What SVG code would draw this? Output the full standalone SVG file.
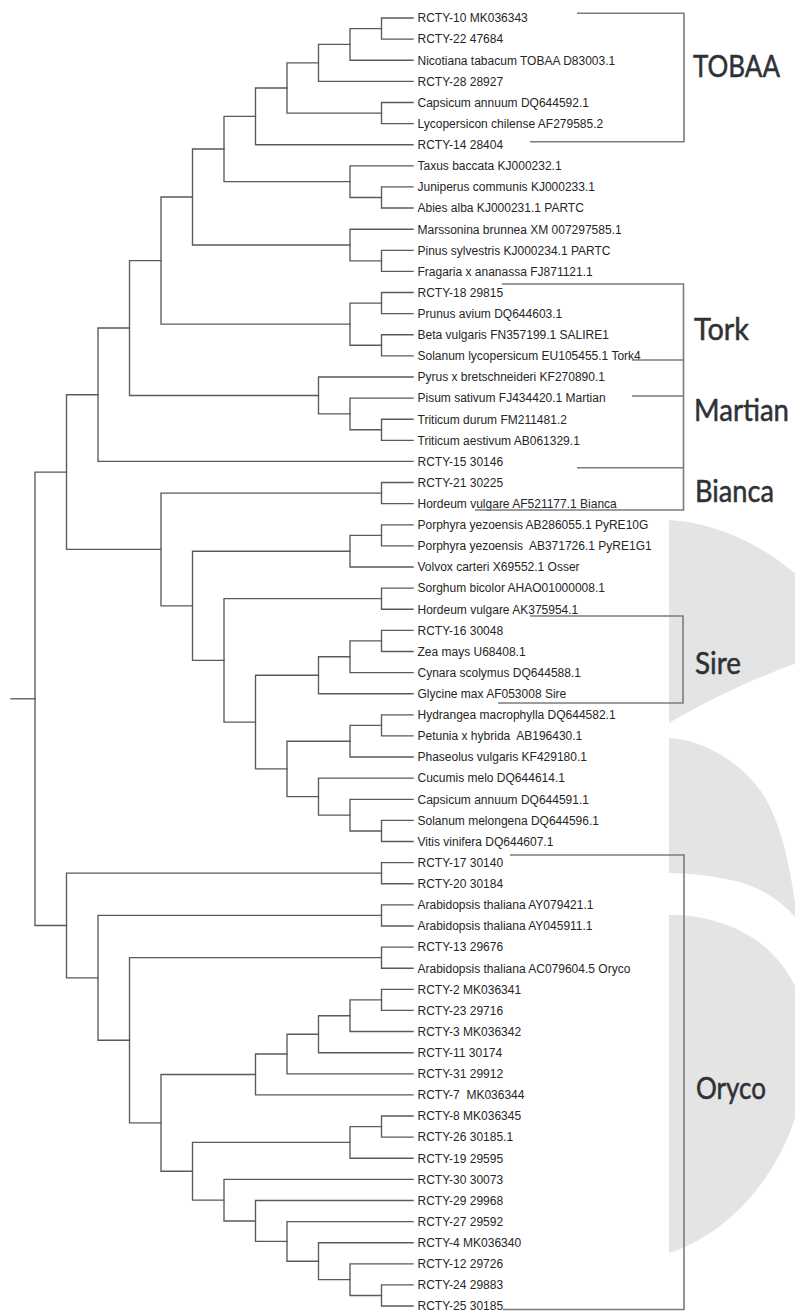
<svg xmlns="http://www.w3.org/2000/svg" width="795" height="1311" viewBox="0 0 795 1311">
<style>
.leaf{font-family:"Liberation Sans",Arial,sans-serif;font-size:12px;fill:#262626}
.clade{font-family:Lato,"Open Sans",sans-serif;font-size:30px;fill:#2e3236;stroke:#2e3236;stroke-width:0.5}
.br{fill:none;stroke:#5a5a5a;stroke-width:1.35;stroke-linecap:square}
.bk{fill:none;stroke:#7c7c7c;stroke-width:1.6}
.wm{fill:#e4e4e4}
</style>
<defs>
<clipPath id="wmclip"><rect x="669" y="0" width="126" height="1311"/></clipPath>
</defs>
<rect width="795" height="1311" fill="#fff"/>
<g id="watermark" clip-path="url(#wmclip)">
<path class="wm" d="M669,520 C712,522 760,542 800,578 V662 C760,676 712,698 669,723 Z"/>
<path class="wm" d="M669,738 C705,740 740,763 760,790 C775,810 788,850 795,903 V917 C780,900 760,888 740,882 C715,876 690,873 669,873 Z"/>
<path class="wm" d="M669,915 C700,914 740,925 765,947 C780,960 790,975 797,990 V1110 C785,1160 740,1230 669,1253 Z"/>
</g>
<g id="connectors" class="br">
<path d="M35 698.8H11"/>
<path d="M66.5 472.05H35V925.5H66.5"/>
<path d="M413 18H381.5V39.1H413"/>
<path d="M381.5 28.55H350V60.2H413"/>
<path d="M350 44.4H318.5V81.3H413"/>
<path d="M413 102.5H381.5V123.6H413"/>
<path d="M318.5 62.85H287V113.05H381.5"/>
<path d="M287 87.95H255.5V144.7H413"/>
<path d="M413 186.9H381.5V208H413"/>
<path d="M413 165.8H350V197.45H381.5"/>
<path d="M255.5 116.3H224V181.6H350"/>
<path d="M413 250.3H381.5V271.4H413"/>
<path d="M413 229.2H350V260.85H381.5"/>
<path d="M224 148.95H192.5V245H350"/>
<path d="M413 292.5H381.5V313.6H413"/>
<path d="M413 334.7H381.5V355.8H413"/>
<path d="M381.5 303.05H350V345.25H381.5"/>
<path d="M192.5 196.98H161V324.15H350"/>
<path d="M413 419.2H381.5V440.3H413"/>
<path d="M413 398.1H350V429.75H381.5"/>
<path d="M413 377H318.5V413.9H350"/>
<path d="M161 260.56H129.5V395.45H318.5"/>
<path d="M129.5 328H98V461.4H413"/>
<path d="M413 482.5H381.5V503.6H413"/>
<path d="M413 524.8H381.5V545.9H413"/>
<path d="M381.5 535.35H350V567H413"/>
<path d="M413 588.1H381.5V609.2H413"/>
<path d="M413 630.3H381.5V651.5H413"/>
<path d="M381.5 640.9H350V672.6H413"/>
<path d="M350 656.75H318.5V693.7H413"/>
<path d="M413 714.8H381.5V735.9H413"/>
<path d="M381.5 725.35H350V757H413"/>
<path d="M413 820.4H381.5V841.5H413"/>
<path d="M413 799.3H350V830.95H381.5"/>
<path d="M413 778.1H318.5V815.1H350"/>
<path d="M350 741.2H287V796.6H318.5"/>
<path d="M318.5 675.2H255.5V768.9H287"/>
<path d="M381.5 598.65H224V722.05H255.5"/>
<path d="M350 551.2H192.5V660.35H224"/>
<path d="M381.5 493.05H161V605.8H192.5"/>
<path d="M98 394.7H66.5V549.4H161"/>
<path d="M413 862.6H381.5V883.7H413"/>
<path d="M413 904.8H381.5V926H413"/>
<path d="M413 947.1H381.5V968.2H413"/>
<path d="M413 989.3H381.5V1010.4H413"/>
<path d="M381.5 999.85H350V1031.5H413"/>
<path d="M350 1015.7H318.5V1052.7H413"/>
<path d="M318.5 1034.2H287V1073.8H413"/>
<path d="M287 1054H255.5V1094.9H413"/>
<path d="M413 1116H381.5V1137.1H413"/>
<path d="M381.5 1126.55H350V1158.2H413"/>
<path d="M413 1284.9H381.5V1306H413"/>
<path d="M413 1263.8H350V1295.45H381.5"/>
<path d="M413 1242.7H318.5V1279.6H350"/>
<path d="M413 1221.6H287V1261.2H318.5"/>
<path d="M413 1200.5H255.5V1241.4H287"/>
<path d="M413 1179.3H224V1220.95H255.5"/>
<path d="M350 1142.4H192.5V1200.1H224"/>
<path d="M255.5 1074.45H161V1171.25H192.5"/>
<path d="M381.5 957.65H129.5V1122.85H161"/>
<path d="M381.5 915.4H98V1040.25H129.5"/>
<path d="M381.5 873.15H66.5V977.8H98"/>
</g>
<g id="leaves" class="leaf">
<g id="leaf-1"><text x="417.5" y="22.3">RCTY-10 MK036343</text></g>
<g id="leaf-2"><text x="417.5" y="43.4">RCTY-22 47684</text></g>
<g id="leaf-3"><text x="417.5" y="64.5">Nicotiana tabacum TOBAA D83003.1</text></g>
<g id="leaf-4"><text x="417.5" y="85.6">RCTY-28 28927</text></g>
<g id="leaf-5"><text x="417.5" y="106.8">Capsicum annuum DQ644592.1</text></g>
<g id="leaf-6"><text x="417.5" y="127.9">Lycopersicon chilense AF279585.2</text></g>
<g id="leaf-7"><text x="417.5" y="149">RCTY-14 28404</text></g>
<g id="leaf-8"><text x="417.5" y="170.1">Taxus baccata KJ000232.1</text></g>
<g id="leaf-9"><text x="417.5" y="191.2">Juniperus communis KJ000233.1</text></g>
<g id="leaf-10"><text x="417.5" y="212.3">Abies alba KJ000231.1 PARTC</text></g>
<g id="leaf-11"><text x="417.5" y="233.5">Marssonina brunnea XM 007297585.1</text></g>
<g id="leaf-12"><text x="417.5" y="254.6">Pinus sylvestris KJ000234.1 PARTC</text></g>
<g id="leaf-13"><text x="417.5" y="275.7">Fragaria x ananassa FJ871121.1</text></g>
<g id="leaf-14"><text x="417.5" y="296.8">RCTY-18 29815</text></g>
<g id="leaf-15"><text x="417.5" y="317.9">Prunus avium DQ644603.1</text></g>
<g id="leaf-16"><text x="417.5" y="339">Beta vulgaris FN357199.1 SALIRE1</text></g>
<g id="leaf-17"><text x="417.5" y="360.1">Solanum lycopersicum EU105455.1 Tork4</text></g>
<g id="leaf-18"><text x="417.5" y="381.3">Pyrus x bretschneideri KF270890.1</text></g>
<g id="leaf-19"><text x="417.5" y="402.4">Pisum sativum FJ434420.1 Martian</text></g>
<g id="leaf-20"><text x="417.5" y="423.5">Triticum durum FM211481.2</text></g>
<g id="leaf-21"><text x="417.5" y="444.6">Triticum aestivum AB061329.1</text></g>
<g id="leaf-22"><text x="417.5" y="465.7">RCTY-15 30146</text></g>
<g id="leaf-23"><text x="417.5" y="486.8">RCTY-21 30225</text></g>
<g id="leaf-24"><text x="417.5" y="507.9">Hordeum vulgare AF521177.1 Bianca</text></g>
<g id="leaf-25"><text x="417.5" y="529.1">Porphyra yezoensis AB286055.1 PyRE10G</text></g>
<g id="leaf-26"><text x="417.5" y="550.2" xml:space="preserve">Porphyra yezoensis&#160; AB371726.1 PyRE1G1</text></g>
<g id="leaf-27"><text x="417.5" y="571.3">Volvox carteri X69552.1 Osser</text></g>
<g id="leaf-28"><text x="417.5" y="592.4">Sorghum bicolor AHAO01000008.1</text></g>
<g id="leaf-29"><text x="417.5" y="613.5">Hordeum vulgare AK375954.1</text></g>
<g id="leaf-30"><text x="417.5" y="634.6">RCTY-16 30048</text></g>
<g id="leaf-31"><text x="417.5" y="655.8">Zea mays U68408.1</text></g>
<g id="leaf-32"><text x="417.5" y="676.9">Cynara scolymus DQ644588.1</text></g>
<g id="leaf-33"><text x="417.5" y="698">Glycine max AF053008 Sire</text></g>
<g id="leaf-34"><text x="417.5" y="719.1">Hydrangea macrophylla DQ644582.1</text></g>
<g id="leaf-35"><text x="417.5" y="740.2" xml:space="preserve">Petunia x hybrida&#160; AB196430.1</text></g>
<g id="leaf-36"><text x="417.5" y="761.3">Phaseolus vulgaris KF429180.1</text></g>
<g id="leaf-37"><text x="417.5" y="782.4">Cucumis melo DQ644614.1</text></g>
<g id="leaf-38"><text x="417.5" y="803.6">Capsicum annuum DQ644591.1</text></g>
<g id="leaf-39"><text x="417.5" y="824.7">Solanum melongena DQ644596.1</text></g>
<g id="leaf-40"><text x="417.5" y="845.8">Vitis vinifera DQ644607.1</text></g>
<g id="leaf-41"><text x="417.5" y="866.9">RCTY-17 30140</text></g>
<g id="leaf-42"><text x="417.5" y="888">RCTY-20 30184</text></g>
<g id="leaf-43"><text x="417.5" y="909.1">Arabidopsis thaliana AY079421.1</text></g>
<g id="leaf-44"><text x="417.5" y="930.3">Arabidopsis thaliana AY045911.1</text></g>
<g id="leaf-45"><text x="417.5" y="951.4">RCTY-13 29676</text></g>
<g id="leaf-46"><text x="417.5" y="972.5">Arabidopsis thaliana AC079604.5 Oryco</text></g>
<g id="leaf-47"><text x="417.5" y="993.6">RCTY-2 MK036341</text></g>
<g id="leaf-48"><text x="417.5" y="1014.7">RCTY-23 29716</text></g>
<g id="leaf-49"><text x="417.5" y="1035.8">RCTY-3 MK036342</text></g>
<g id="leaf-50"><text x="417.5" y="1057">RCTY-11 30174</text></g>
<g id="leaf-51"><text x="417.5" y="1078.1">RCTY-31 29912</text></g>
<g id="leaf-52"><text x="417.5" y="1099.2" xml:space="preserve">RCTY-7&#160; MK036344</text></g>
<g id="leaf-53"><text x="417.5" y="1120.3">RCTY-8 MK036345</text></g>
<g id="leaf-54"><text x="417.5" y="1141.4">RCTY-26 30185.1</text></g>
<g id="leaf-55"><text x="417.5" y="1162.5">RCTY-19 29595</text></g>
<g id="leaf-56"><text x="417.5" y="1183.6">RCTY-30 30073</text></g>
<g id="leaf-57"><text x="417.5" y="1204.8">RCTY-29 29968</text></g>
<g id="leaf-58"><text x="417.5" y="1225.9">RCTY-27 29592</text></g>
<g id="leaf-59"><text x="417.5" y="1247">RCTY-4 MK036340</text></g>
<g id="leaf-60"><text x="417.5" y="1268.1">RCTY-12 29726</text></g>
<g id="leaf-61"><text x="417.5" y="1289.2">RCTY-24 29883</text></g>
<g id="leaf-62"><text x="417.5" y="1310.3">RCTY-25 30185</text></g>
</g>
<g id="clade-TOBAA">
<path class="bk" d="M577 13.3H684V141.7H530"/>
<text class="clade" x="693" y="77" textLength="87" lengthAdjust="spacingAndGlyphs">TOBAA</text>
</g>
<g id="clade-Tork-Martian-Bianca">
<path class="bk" d="M502 284H683.5V510H475M632 360H683.5M632 396H683.5M577 467.7H683.5"/>
</g>
<g id="clade-Tork"><text class="clade" x="694" y="340" textLength="55" lengthAdjust="spacingAndGlyphs">Tork</text></g>
<g id="clade-Martian"><text class="clade" x="694" y="421" textLength="95" lengthAdjust="spacingAndGlyphs">Martian</text></g>
<g id="clade-Bianca"><text class="clade" x="695" y="502" textLength="79" lengthAdjust="spacingAndGlyphs">Bianca</text></g>
<g id="clade-Sire">
<path class="bk" d="M530 616H683V703H498"/>
<text class="clade" x="695" y="674" textLength="46" lengthAdjust="spacingAndGlyphs">Sire</text>
</g>
<g id="clade-Oryco">
<path class="bk" d="M510 855H684V1309.5H503"/>
<text class="clade" x="696" y="1099" textLength="70" lengthAdjust="spacingAndGlyphs">Oryco</text>
</g>
</svg>
